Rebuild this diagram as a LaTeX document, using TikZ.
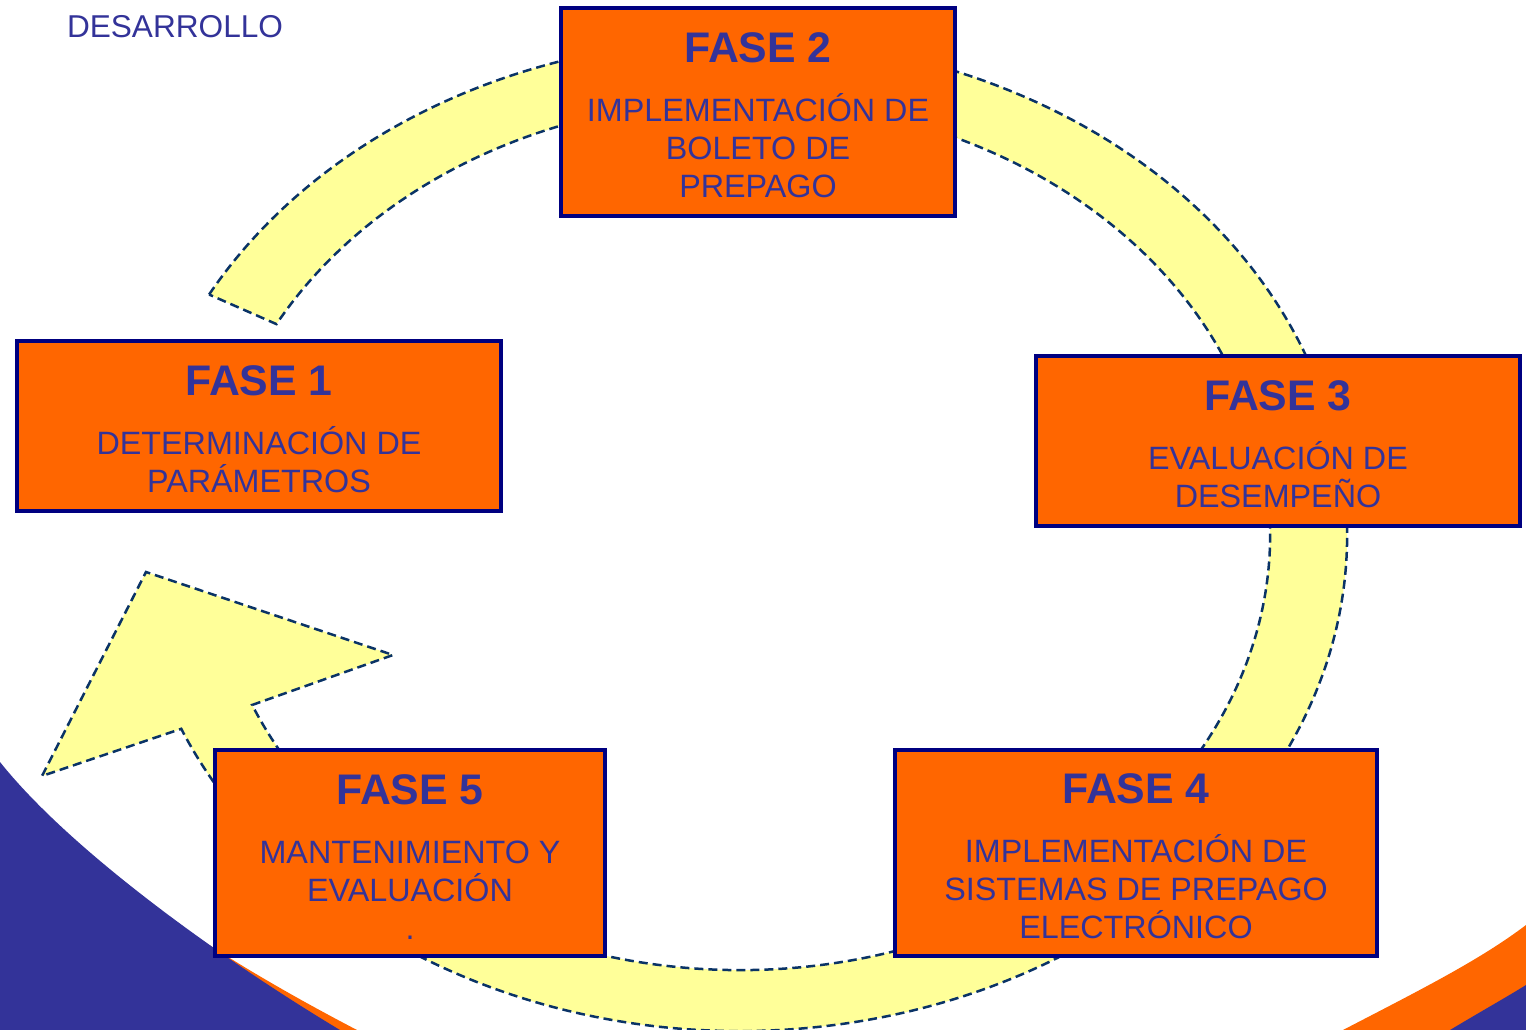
\documentclass[tikz,border=0pt]{standalone}
\usepackage{fontspec}
\setmainfont{Liberation Sans}
\definecolor{boxfill}{HTML}{FF6600}
\definecolor{boxline}{HTML}{000080}
\definecolor{txt}{HTML}{333399}
\definecolor{ringfill}{HTML}{FFFF99}
\definecolor{ringline}{HTML}{0A3366}
\definecolor{wave}{HTML}{333399}
\definecolor{waveor}{HTML}{FF6600}
\newcommand{\phasettl}[1]{{\fontsize{42.8}{46}\selectfont\bfseries\rule{0pt}{37pt}#1}}
\begin{document}
\begin{tikzpicture}[x=1pt,y=-1pt,
  phase/.style={draw=boxline, line width=4pt, fill=boxfill, text=txt, inner sep=0pt,
    align=center, font=\fontsize{32.3}{38}\selectfont},
  ring/.style={fill=ringfill, draw=ringline, line width=2.5pt, dash pattern=on 9pt off 5pt},
  heading/.style={text=txt, inner sep=0pt, font=\fontsize{31.6}{38}\selectfont}]
\useasboundingbox (0,0) rectangle (1526,1030);
% decorative waves
\fill[waveor] (150,905) .. controls (220,955) and (290,995) .. (357,1030) -- (150,1030) -- cycle;
\fill[wave] (0,762) .. controls (70,850) and (220,958) .. (340,1030) -- (0,1030) -- cycle;
\fill[waveor] (1343,1030) .. controls (1420,990) and (1480,960) .. (1526,925) -- (1526,1030) -- cycle;
\fill[wave] (1450,1030) .. controls (1480,1012) and (1505,998) .. (1526,985) -- (1526,1030) -- cycle;
% circular arrow
\begin{scope}[shift={(740,535)}]
\draw[ring] (-151:607 and 496) arc[start angle=-151, end angle=157, x radius=607, y radius=496]
  -- (-698,241) -- (-594,37) -- (-347,120)
  -- (157:530 and 435) arc[start angle=157, end angle=-151, x radius=530, y radius=435]
  -- cycle;
\end{scope}
% phases
\node[phase, minimum width=394pt, minimum height=208pt] (f2) at (758,112)
  {\phasettl{FASE 2}\\[21pt]IMPLEMENTACIÓN DE\\BOLETO DE\\PREPAGO};
\node[phase, minimum width=484pt, minimum height=170pt] (f1) at (259,426)
  {\phasettl{FASE 1}\\[21pt]DETERMINACIÓN DE\\PARÁMETROS};
\node[phase, minimum width=484pt, minimum height=170pt] (f3) at (1278,441)
  {\phasettl{FASE 3}\\[21pt]EVALUACIÓN DE\\DESEMPEÑO};
\node[phase, minimum width=482pt, minimum height=206pt] (f4) at (1136,853)
  {\phasettl{FASE 4}\\[21pt]IMPLEMENTACIÓN DE\\SISTEMAS DE PREPAGO\\ELECTRÓNICO};
\node[phase, minimum width=390pt, minimum height=206pt] (f5) at (410,853)
  {\phasettl{FASE 5}\\[21pt]MANTENIMIENTO Y\\EVALUACIÓN\\.};
\node[heading] (dev) at (175,27) {DESARROLLO};
\end{tikzpicture}
\end{document}
